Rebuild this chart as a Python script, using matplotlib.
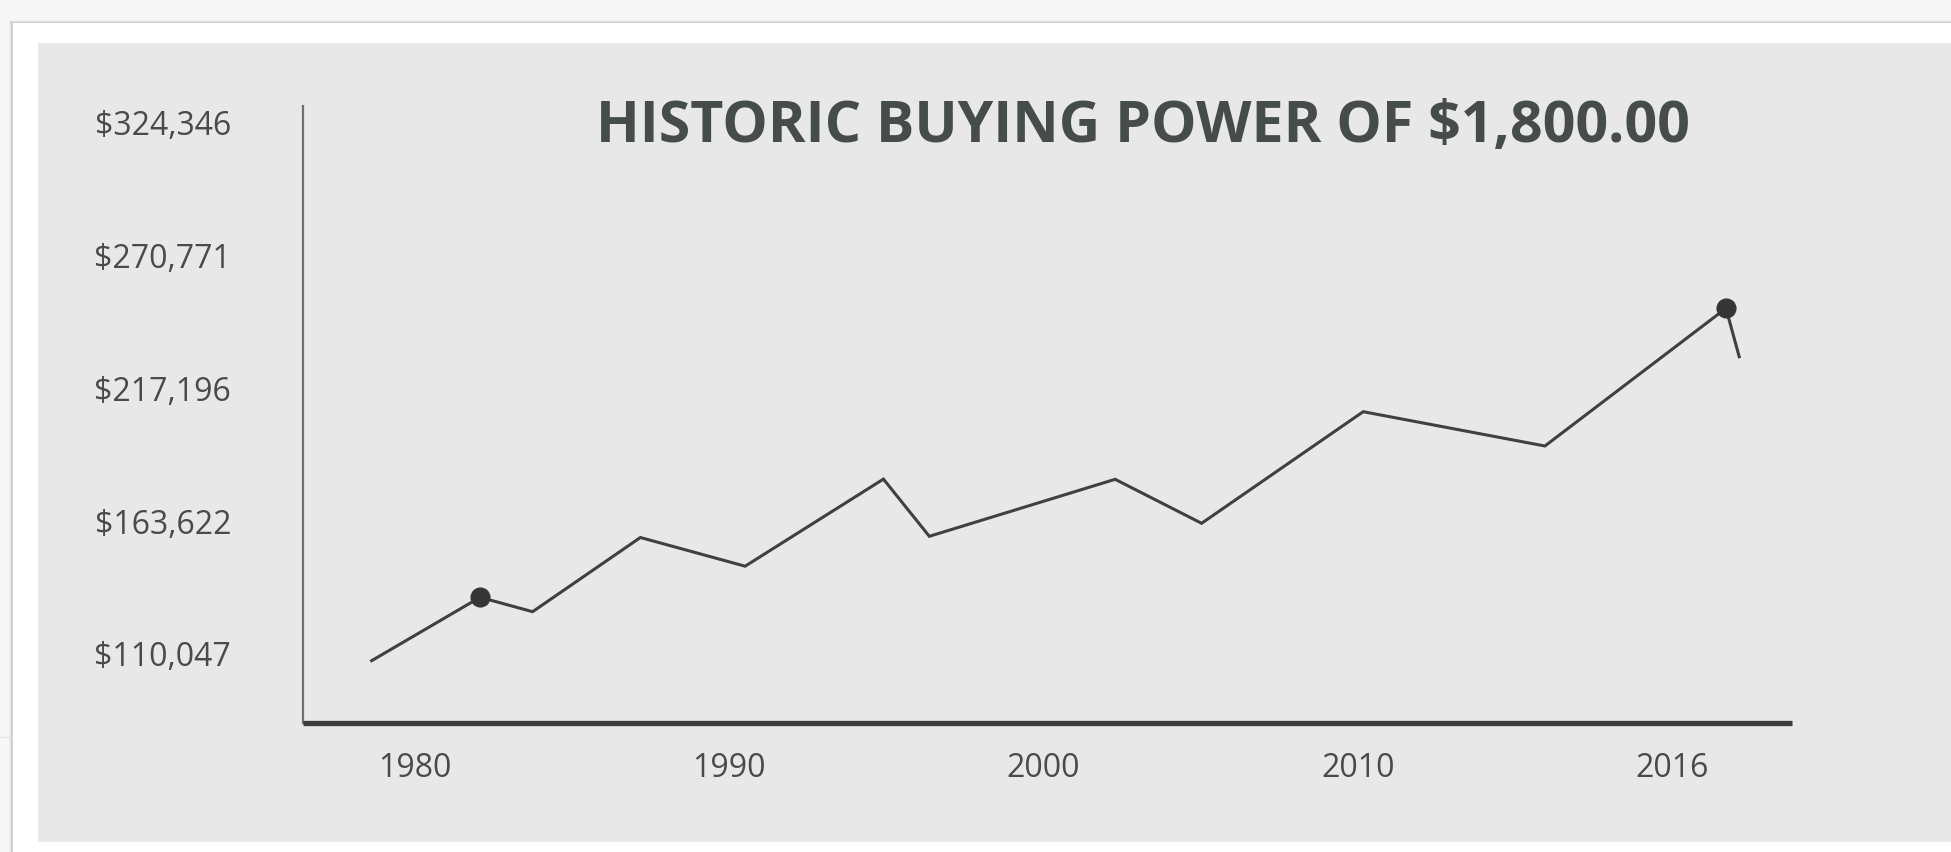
import matplotlib
matplotlib.use('Agg')
import matplotlib.pyplot as plt
from matplotlib.patches import Rectangle
from matplotlib.lines import Line2D

# values
years = [1978.63, 1982.08, 1983.75, 1987.18, 1990.51, 1994.91, 1996.37,
         2002.28, 2005.03, 2010.17, 2015.95, 2021.71, 2022.13]
power = [107344, 132907, 127101, 157018, 145446, 180565, 157502,
         180484, 162743, 207741, 193911, 249431, 229917]
marked = [1, 11]

ytick_vals = [110047, 163622, 217196, 270771, 324346]
xtick_pos = [1980, 1990, 2000, 2010, 2020]
xtick_lab = ['1980', '1990', '2000', '2010', '2016']

title = 'HISTORIC BUYING POWER OF $1,800.00'

W, H = 1951, 852
plt.rcParams['font.family'] = ['Open Sans', 'DejaVu Sans']

fig = plt.figure(figsize=(W / 100, H / 100), dpi=100, facecolor='#f7f7f7')

# card and gray panel behind the chart
for i, a in enumerate([0.03, 0.05, 0.08]):
    fig.patches.append(Rectangle(((12 - 3 + i) / W, 0), 1, (H - 22.7 + 3 - i) / H,
                                 transform=fig.transFigure, facecolor='#000000',
                                 alpha=a, edgecolor='none', zorder=-10))
fig.patches.append(Rectangle((12.5 / W, 0), 1, (H - 22.7) / H, transform=fig.transFigure,
                             facecolor='white', edgecolor='none', zorder=-9))
fig.patches.append(Rectangle((38 / W, (H - 842) / H), 1, (842 - 43) / H,
                             transform=fig.transFigure, facecolor='#e8e8e8',
                             edgecolor='none', zorder=-8))
fig.lines.append(Line2D([0, 11 / W], [1 - 737 / H, 1 - 737 / H], transform=fig.transFigure,
                        color='#e4e4e4', lw=1, zorder=-8))

left, right, top, bottom = 303.3, 1791.7, 106, 723
ax = fig.add_axes([left / W, 1 - bottom / H, (right - left) / W, (bottom - top) / H])
ax.set_facecolor('none')
ax.set_zorder(1)

ax.plot(years, power, color='#404040', lw=2.2, solid_joinstyle='miter', zorder=3)
ax.plot([years[i] for i in marked], [power[i] for i in marked], 'o',
        color='#353535', ms=13.5, zorder=4)

ax.set_xlim(1976.457, 2023.80)
ax.set_ylim(82224, 330999)

ax.set_xticks(xtick_pos)
ax.set_xticklabels(xtick_lab)
ax.set_yticks(ytick_vals)
ax.set_yticklabels(['${:,}'.format(v) for v in ytick_vals])
ax.tick_params(axis='both', length=0, labelsize=23, labelcolor='#474b4b')
ax.tick_params(axis='y', pad=52)
ax.tick_params(axis='x', pad=21)

for s in ['top', 'right']:
    ax.spines[s].set_visible(False)
ax.spines['left'].set_color('#707070')
ax.spines['left'].set_linewidth(1.6)
ax.spines['bottom'].set_color('#3c3c3c')
ax.spines['bottom'].set_linewidth(3.8)
ax.spines['bottom'].set_capstyle('butt')

fig.text(1143 / W, 1 - 141.7 / H, title, ha='center', va='baseline',
         fontsize=41.2, fontweight='bold', color='#464c4c', zorder=5)

fig.savefig('out.png', dpi=100, facecolor=fig.get_facecolor())
